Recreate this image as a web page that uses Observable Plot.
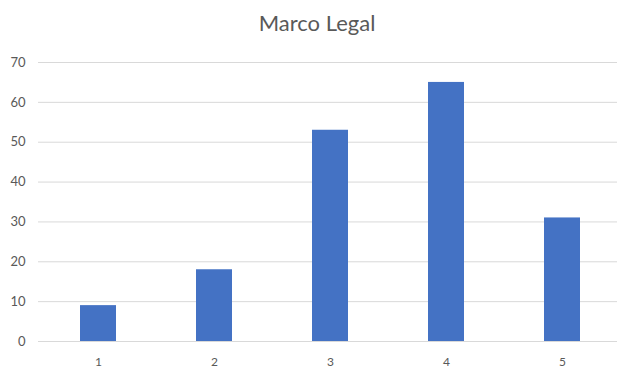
<!DOCTYPE html>
<html>
<head>
<meta charset="utf-8">
<script src="https://cdn.jsdelivr.net/npm/d3@7"></script>
<script src="https://cdn.jsdelivr.net/npm/@observablehq/plot@0.6"></script>
<style>
  html, body { margin: 0; padding: 0; background: #fff; }
  #wrap { position: relative; width: 617px; height: 371px; overflow: hidden; }
  #title { position: absolute; top: 8px; left: 217px; width: 200px; text-align: center;
           font-family: Lato, "Open Sans", sans-serif; font-size: 22px; color: #595959; line-height: 30px; }
  #chart { position: absolute; top: 48px; left: 0; }
</style>
</head>
<body>
<div id="wrap">
  <div id="title">Marco Legal</div>
  <div id="chart"></div>
</div>
<script>
const categories = ["1", "2", "3", "4", "5"];
const values = [9, 18, 53, 65, 31];
const yTicks = [0, 10, 20, 30, 40, 50, 60, 70];

const data = categories.map((c, i) => ({category: c, value: values[i]}));

const chart = Plot.plot({
  width: 617,
  height: 323,
  marginTop: 14,
  marginBottom: 30,
  marginLeft: 38,
  marginRight: 0,
  style: {fontFamily: "Lato, 'Open Sans', sans-serif", fontSize: "13px", color: "#595959", background: "#fff"},
  x: {domain: categories, range: [38.8, 620.7], paddingInner: 0.69, paddingOuter: 0.345, label: null},
  y: {domain: [0, 70], label: null},
  marks: [
    Plot.gridY(yTicks, {stroke: "#d9d9d9", strokeOpacity: 1}),
    Plot.barY(data, {x: "category", y: "value", fill: "#4472C4"}),
    Plot.axisY(yTicks, {tickSize: 0, tickPadding: 13, label: null, fontSize: 13}),
    Plot.axisX({tickSize: 0, tickPadding: 16, label: null, fontSize: 12})
  ]
});
document.getElementById("chart").appendChild(chart);
</script>
</body>
</html>
